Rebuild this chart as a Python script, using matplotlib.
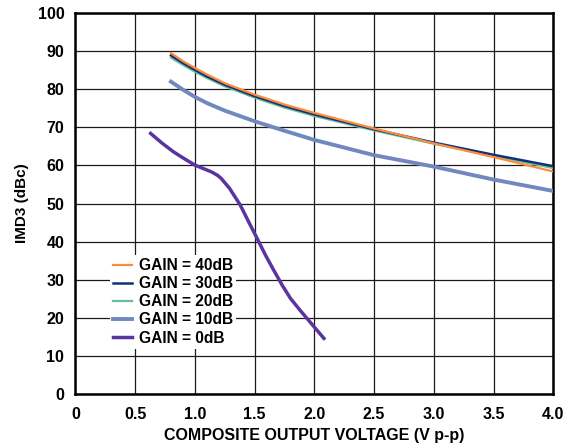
import matplotlib
matplotlib.use('Agg')
import matplotlib.pyplot as plt

matplotlib.rcParams['font.family'] = ['Liberation Sans', 'DejaVu Sans']
matplotlib.rcParams['font.weight'] = 'bold'

# values
x40 = [0.8, 0.9, 1.0, 1.1, 1.25, 1.5, 1.75, 2.0, 2.5, 3.0, 3.5, 4.0]
y40 = [89.5, 87.4, 85.6, 83.9, 81.6, 78.6, 76.0, 73.8, 69.7, 65.8, 62.2, 58.4]

x30 = [0.8, 0.9, 1.0, 1.1, 1.25, 1.5, 1.75, 2.0, 2.5, 3.0, 3.5, 4.0]
y30 = [88.9, 86.9, 85.1, 83.4, 81.2, 78.2, 75.6, 73.4, 69.5, 66.0, 62.8, 59.8]

x20 = [0.8, 0.9, 1.0, 1.1, 1.25, 1.5, 1.75, 2.0, 2.5, 3.0, 3.5, 4.0]
y20 = [88.3, 86.4, 84.6, 83.0, 80.8, 77.8, 75.2, 73.0, 69.2, 65.7, 62.5, 59.3]

x10 = [0.8, 0.9, 1.0, 1.1, 1.25, 1.5, 1.71, 2.0, 2.5, 3.0, 3.5, 4.0]
y10 = [82.0, 79.9, 78.0, 76.4, 74.4, 71.6, 69.5, 66.7, 62.7, 59.7, 56.3, 53.3]

x0 = [0.63, 0.72, 0.82, 0.9, 1.0, 1.07, 1.14, 1.19, 1.22, 1.29, 1.38, 1.45, 1.52,
      1.59, 1.66, 1.73, 1.80, 1.88, 1.98, 2.08]
y0 = [68.4, 66.0, 63.6, 62.0, 60.1, 59.2, 58.3, 57.4, 56.6, 54.0, 49.6, 45.2, 40.9,
      36.5, 32.5, 28.6, 25.1, 22.0, 18.3, 14.6]

xticks = [0, 0.5, 1.0, 1.5, 2.0, 2.5, 3.0, 3.5, 4.0]
xticklabels = ['0', '0.5', '1.0', '1.5', '2.0', '2.5', '3.0', '3.5', '4.0']
yticks = [0, 10, 20, 30, 40, 50, 60, 70, 80, 90, 100]

fig = plt.figure(figsize=(5.8, 4.46), dpi=100)
ax = fig.add_axes([0.130, 0.1166, 0.824, 0.854])

ax.plot(x10, y10, color='#7088be', lw=2.8, label='GAIN = 10dB', zorder=3)
ax.plot(x0, y0, color='#5a34a0', lw=2.5, label='GAIN = 0dB', zorder=3)
ax.plot(x20, y20, color='#6bbf98', lw=1.6, label='GAIN = 20dB', zorder=4)
ax.plot(x40, y40, color='#ff8c3c', lw=1.6, label='GAIN = 40dB', zorder=5)
ax.plot(x30, y30, color='#12307a', lw=1.8, label='GAIN = 30dB', zorder=4)

ax.set_xlim(0, 4)
ax.set_ylim(0, 100)
ax.set_xticks(xticks)
ax.set_xticklabels(xticklabels)
ax.set_yticks(yticks)
ax.tick_params(length=0, labelsize=11.5, pad=8)
ax.tick_params(axis='x', pad=9.5)
ax.grid(True, color='#1a1a1a', lw=0.9)
ax.set_axisbelow(True)
for s in ax.spines.values():
    s.set_linewidth(1.8)

ax.set_xlabel('COMPOSITE OUTPUT VOLTAGE (V p-p)', fontsize=11.5, fontweight='bold', labelpad=4)
ax.set_ylabel('IMD3 (dBc)', fontsize=11, fontweight='bold', labelpad=6)

h, l = ax.get_legend_handles_labels()
order = [3, 4, 2, 0, 1]
leg = ax.legend([h[i] for i in order], [l[i] for i in order],
                loc='upper left', bbox_to_anchor=(0.072, 0.365), borderaxespad=0,
                fontsize=11.2, frameon=True, fancybox=False, framealpha=1,
                edgecolor='none', facecolor='white', handlelength=1.25,
                handletextpad=0.4, labelspacing=0.2, borderpad=0.2)

plt.savefig('out.png', dpi=100)
